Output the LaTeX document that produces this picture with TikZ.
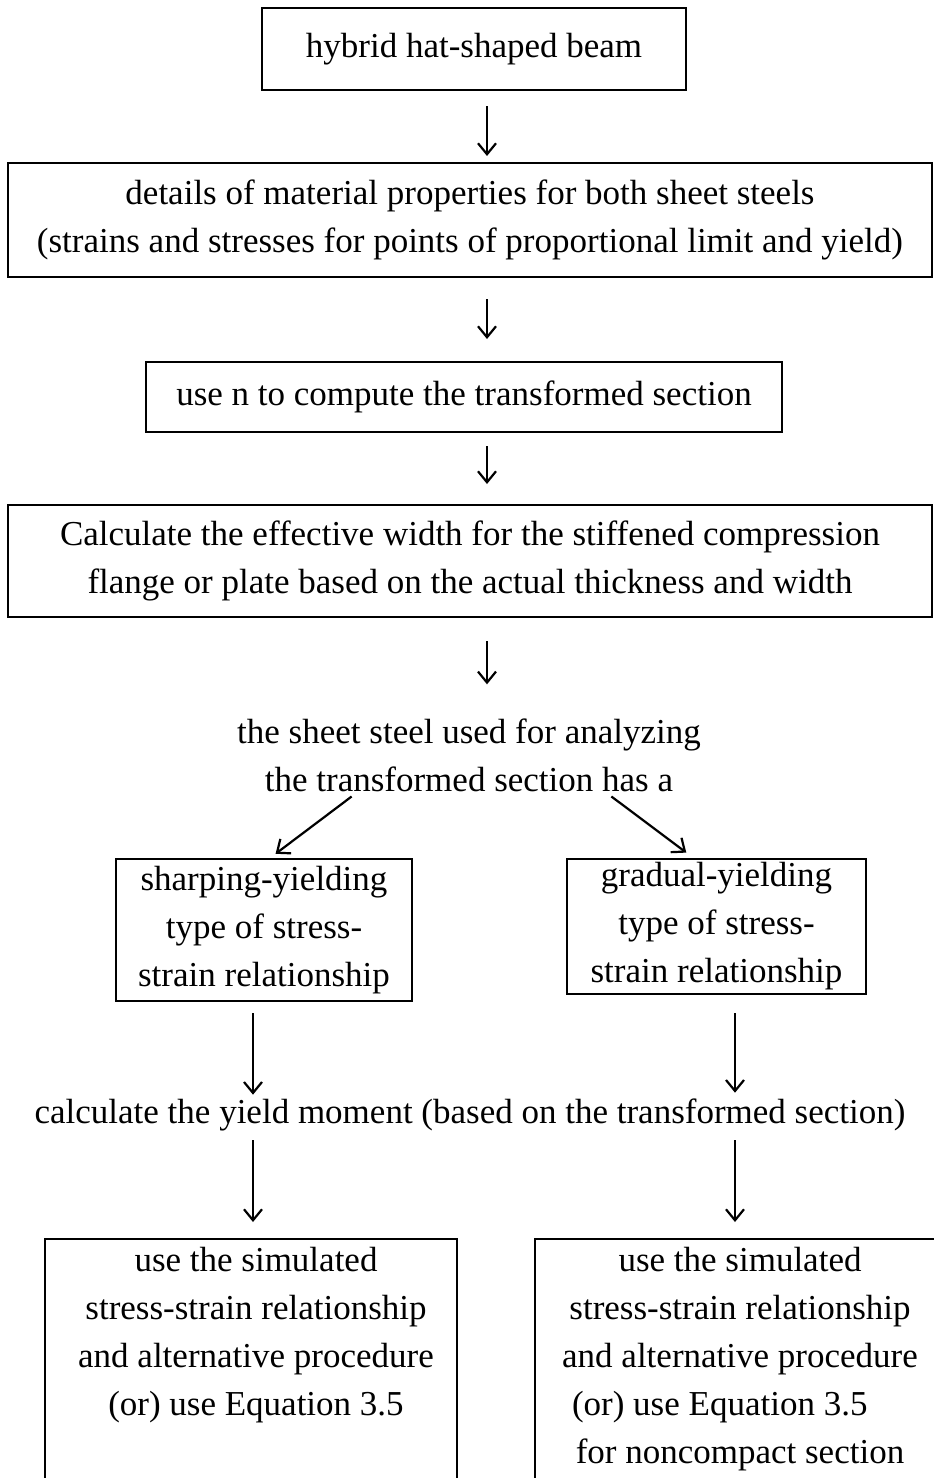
\documentclass[tikz,border=0pt]{standalone}
\usepackage{fontspec}
\setmainfont{Liberation Serif}
\usetikzlibrary{arrows.meta}

\tikzset{
  box/.style={draw, line width=2pt, align=center, inner sep=0pt},
  lbl/.style={align=center, inner sep=0pt},
  flow/.style={-{Straight Barb[length=11pt,width=18pt,line width=2.2pt]}, line width=2.2pt},
}

\begin{document}
\begin{tikzpicture}[x=1pt,y=1pt,font=\fontsize{35}{48}\selectfont]
    \clip (0,0) rectangle (934,-1478);

    \node[box, minimum width=424pt, minimum height=82pt] (beam) at (474,-49) {hybrid hat-shaped beam};
    \node[box, minimum width=924pt, minimum height=114pt] (props) at (470,-220)
        {details of material properties for both sheet steels\\(strains and stresses for points of proportional limit and yield)};
    \node[box, minimum width=636pt, minimum height=70pt] (trans) at (464,-397) {use n to compute the transformed section};
    \node[box, minimum width=924pt, minimum height=112pt] (width) at (470,-561)
        {Calculate the effective width for the stiffened compression\\flange or plate based on the actual thickness and width};

    \node[lbl] (steel) at (469,-755) {the sheet steel used for analyzing\\the transformed section has a};

    \node[box, minimum width=296pt, minimum height=142pt] (sharp) at (264,-930)
        {sharping-yielding\\type of stress-\\strain relationship};
    \node[box, minimum width=299pt, minimum height=135pt] (gradual) at (716.5,-926.5)
        {gradual-yielding\\type of stress-\\strain relationship};

    \node[lbl] (moment) at (470,-1115) {calculate the yield moment (based on the transformed section)};

    % open boxes at the foot of the page
    \node[box, anchor=north, minimum width=412pt, minimum height=300pt] (leftbox) at (251,-1238) {};
    \node[lbl, anchor=north] (lefttext) at (256,-1247)
        {use the simulated\\stress-strain relationship\\and alternative procedure\\(or) use Equation 3.5};
    \node[box, anchor=north, minimum width=420pt, minimum height=300pt] (rightbox) at (745,-1238) {};
    \node[lbl, anchor=north] (righttext) at (740,-1247)
        {use the simulated\\stress-strain relationship\\and alternative procedure\\\makebox[336pt][l]{(or) use Equation 3.5}\\for noncompact section};

    \draw[flow, shorten <=15pt, shorten >=6pt] ([xshift=13pt]beam.south) -- ([xshift=17pt]props.north);
    \draw[flow, shorten <=21pt, shorten >=22pt] ([xshift=17pt]props.south) -- ([xshift=23pt]trans.north);
    \draw[flow, shorten <=13pt, shorten >=20pt] ([xshift=23pt]trans.south) -- ([xshift=17pt]width.north);
    \draw[flow, shorten <=23pt, shorten >=34pt] ([xshift=17pt]width.south) -- ([xshift=18pt]steel.north);

    \draw[flow, shorten <=8pt, shorten >=7pt] ([xshift=-111pt]steel.south) -- ([xshift=6pt]sharp.north);
    \draw[flow, shorten <=8pt, shorten >=9pt] ([xshift=136pt]steel.south) -- ([xshift=-23pt]gradual.north);

    \draw[flow, shorten <=11pt, shorten >=4pt] ([xshift=-11pt]sharp.south) -- ([xshift=-217pt]moment.north);
    \draw[flow, shorten <=18pt, shorten >=6pt] ([xshift=18.5pt]gradual.south) -- ([xshift=265pt]moment.north);

    \draw[flow, shorten <=9pt, shorten >=16pt] ([xshift=-217pt]moment.south) -- ([xshift=2pt]leftbox.north);
    \draw[flow, shorten <=9pt, shorten >=16pt] ([xshift=265pt]moment.south) -- ([xshift=-10pt]rightbox.north);
\end{tikzpicture}
\end{document}
